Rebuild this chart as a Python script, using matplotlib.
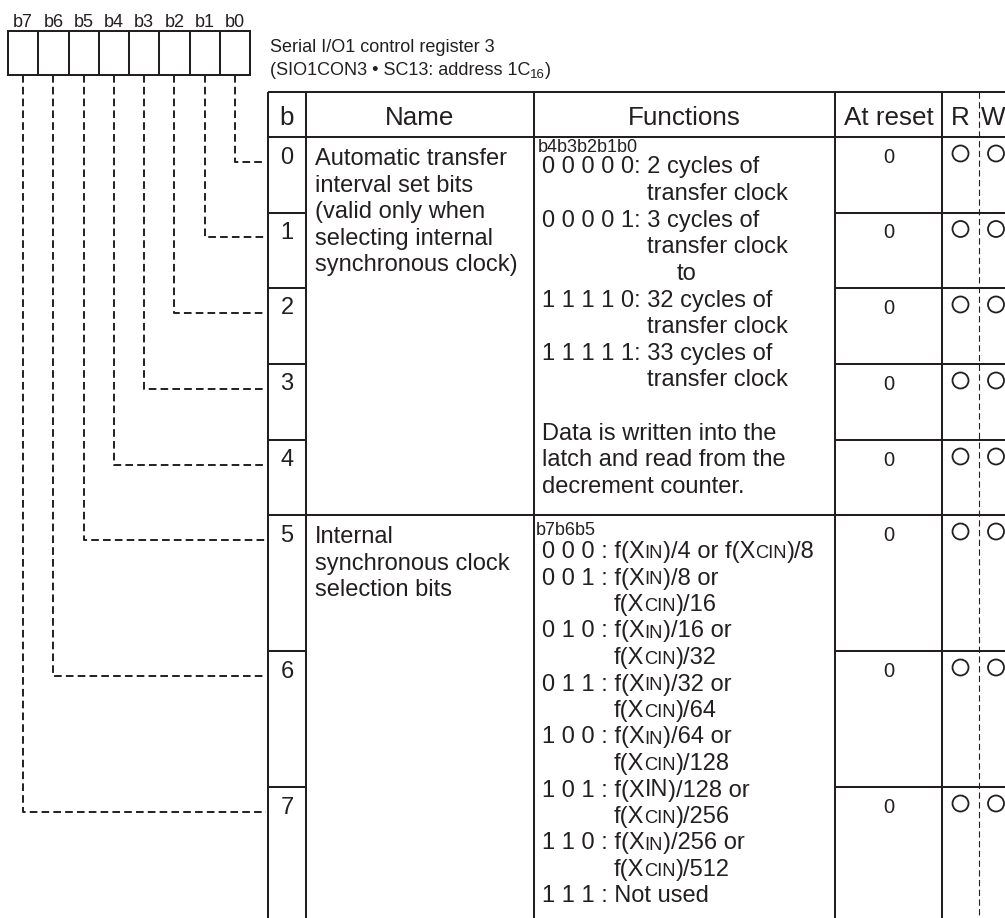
import matplotlib
matplotlib.use('Agg')
import matplotlib.pyplot as plt
from matplotlib.font_manager import FontProperties
from matplotlib.patches import Circle, Rectangle

plt.rcParams['font.family'] = ['Liberation Sans', 'DejaVu Sans']
plt.rcParams['lines.scale_dashes'] = False

# ---------------- data ----------------
bit_labels = ["b7", "b6", "b5", "b4", "b3", "b2", "b1", "b0"]
title_line1 = "Serial I/O1 control register 3"
title_line2 = ["(SIO1CON3 • SC13: address 1C", "16", ")"]
headers = ["b", "Name", "Functions", "At reset", "R", "W"]
bits = [0, 1, 2, 3, 4, 5, 6, 7]
reset_values = ["0", "0", "0", "0", "0", "0", "0", "0"]
readable = [True] * 8
writable = [True] * 8
name_group1 = ["Automatic transfer", "interval set bits", "(valid only when",
               "selecting internal", "synchronous clock)"]
name_group2 = ["Internal", "synchronous clock", "selection bits"]
func1_header = "b4b3b2b1b0"
func1_codes = ["0 0 0 0 0", "0 0 0 0 1", "1 1 1 1 0", "1 1 1 1 1"]
func1_cycles = ["2", "3", "32", "33"]
func1_note = ["Data is written into the", "latch and read from the", "decrement counter."]
func2_header = "b7b6b5"
func2_codes = ["0 0 0", "0 0 1", "0 1 0", "0 1 1", "1 0 0", "1 0 1", "1 1 0", "1 1 1"]
func2_xin = ["4", "8", "16", "32", "64", "128", "256", None]
func2_xcin = ["8", "16", "32", "64", "128", "256", "512", None]
func2_in_small = [True, True, True, True, True, False, True, True]

# ---------------- layout ----------------
W, H = 1005, 918
INK = '#231f20'
LW = 1.45
FS = 17          # body text
FS_H = 18.7      # header
FS_S = 13        # small labels
SC = 0.78        # small-caps ratio

fig = plt.figure(figsize=(W / 100, H / 100), dpi=100)
ax = fig.add_axes([0, 0, 1, 1])
ax.set_xlim(0, W)
ax.set_ylim(H, 0)
ax.axis('off')
renderer = fig.canvas.get_renderer()


def adv(s, size):
    p = FontProperties(family=['Liberation Sans'], size=size)
    a = renderer.get_text_width_height_descent('|' + s + '|', p, ismath=False)[0]
    b = renderer.get_text_width_height_descent('||', p, ismath=False)[0]
    return a - b


def txt(x, y, s, size=FS, ha='left'):
    ax.text(x, y, s, fontsize=size, ha=ha, va='baseline', color=INK)


def rich(x, y, parts):
    for s, size, dy in parts:
        txt(x, y + dy, s, size)
        x += adv(s, size)


def line(xs, ys, lw=LW, dashes=None):
    l, = ax.plot(xs, ys, color=INK, lw=lw, solid_capstyle='butt')
    if dashes:
        l.set_dashes(dashes)
    return l


# register box
rx0, rx1, ry0, ry1 = 8, 250, 31, 75
cw = (rx1 - rx0) / 8
ax.add_patch(Rectangle((rx0, ry0), rx1 - rx0, ry1 - ry0, fill=False, ec=INK, lw=LW))
for i in range(1, 8):
    line([rx0 + i * cw] * 2, [ry0, ry1])
for i, lab in enumerate(bit_labels):
    txt(rx0 + (i + 0.5) * cw, 27, lab, FS_S, ha='center')

# title
txt(270, 52, title_line1, 13)
rich(270, 75, [(title_line2[0], 13, 0), (title_line2[1], 9.5, 2.5), (title_line2[2], 13, 0)])

# table
tx = [268, 306, 533.5, 835, 942, 979]
t_top, t_head = 92, 137
row_tops = [137, 212.5, 288, 364, 440, 515, 651, 787]
for x in tx[:5]:
    line([x, x], [t_top, H + 5])
line([tx[0], W + 5], [t_top, t_top])
line([tx[0], W + 5], [t_head, t_head])
for r in row_tops[1:]:
    if r == 515:
        line([tx[0], W + 5], [r, r])
    else:
        line([tx[0], tx[1]], [r, r])
        line([tx[3], W + 5], [r, r])
line([tx[5], tx[5]], [t_top, H + 5], lw=0.8, dashes=(4.5, 2.5))

# headers
hx = [287, 419.5, 684.5, 888.5, 960.5, 993]
for x, h in zip(hx, headers):
    txt(x, 125, h, FS_H, ha='center')

# leader lines, bit numbers, reset, R/W
for b in bits:
    vx = rx0 + (7 - b + 0.5) * cw
    yy = row_tops[b] + 24.5
    line([vx, vx, 266], [ry1, yy, yy], lw=1.4, dashes=(5.5, 3))
    txt(287, row_tops[b] + 26.5, str(b), FS, ha='center')
    txt(888.5, row_tops[b] + 25.7, reset_values[b], 14.5, ha='center')
    if readable[b]:
        ax.add_patch(Circle((960.5, row_tops[b] + 16.5), 8, fill=False, ec=INK, lw=1.3))
    if writable[b]:
        ax.add_patch(Circle((996, row_tops[b] + 16.5), 8, fill=False, ec=INK, lw=1.3))

# names
LS = 26.6
for k, s in enumerate(name_group1):
    txt(315, 165 + k * LS, s)
for k, s in enumerate(name_group2):
    txt(315, 543.3 + k * 26.5, s)

# functions group 1
txt(538, 152, func1_header, FS_S)
y0 = 173.5
k = 0
for i, (c, n) in enumerate(zip(func1_codes, func1_cycles)):
    txt(541.7, y0 + k * LS, f"{c}: {n} cycles of")
    k += 1
    txt(647, y0 + k * LS, "transfer clock")
    k += 1
    if i == 1:
        txt(677, y0 + k * LS, "to")
        k += 1
k += 1
for s in func1_note:
    txt(541.7, y0 + k * LS, s)
    k += 1

# functions group 2
txt(536, 535, func2_header, FS_S)
y0 = 558
LS2 = 26.5
k = 0
for i, c in enumerate(func2_codes):
    y = y0 + k * LS2
    insz = FS * SC if func2_in_small[i] else FS
    if func2_xin[i] is None:
        txt(541.7, y, f"{c} : Not used")
        k += 1
        continue
    if i == 0:
        rich(541.7, y, [(f"{c} : f(X", FS, 0), ("IN", insz, 0),
                        (f")/{func2_xin[i]} or f(X", FS, 0), ("CIN", FS * SC, 0),
                        (f")/{func2_xcin[i]}", FS, 0)])
        k += 1
    else:
        rich(541.7, y, [(f"{c} : f(X", FS, 0), ("IN", insz, 0),
                        (f")/{func2_xin[i]} or", FS, 0)])
        k += 1
        rich(614, y0 + k * LS2, [("f(X", FS, 0), ("CIN", FS * SC, 0),
                                 (f")/{func2_xcin[i]}", FS, 0)])
        k += 1

fig.savefig('out.png', dpi=100)
